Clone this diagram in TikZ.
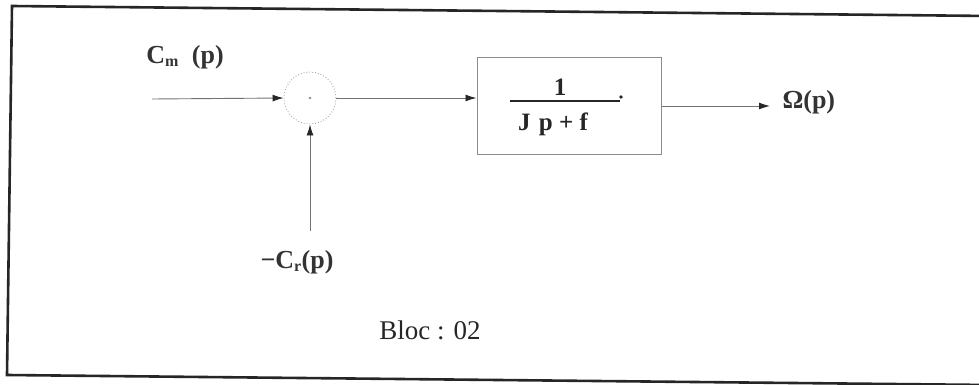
\documentclass[tikz,border=0pt]{standalone}
\usepackage{fontspec}
\setmainfont{Liberation Serif}
\usetikzlibrary{arrows.meta}
\begin{document}
\begin{tikzpicture}[x=1pt,y=-1pt,
  sig/.style={draw=black!55, line width=0.9pt, -{Latex[length=11pt,width=7pt,black!85]}},
  lbl/.style={font=\fontsize{26}{30}\selectfont\bfseries, text=black!80},
  blockbox/.style={draw=black!45, line width=1pt, minimum width=184pt, minimum height=96pt},
  sumc/.style={circle, draw=black!35, dotted, line width=0.9pt, minimum size=52pt, inner sep=0pt}]
\useasboundingbox (0,0) rectangle (979,385);
% outer frame (slightly tilted as in the scan)
\draw[line width=2.6pt, black!85] (12,6) -- (990,16) -- (990,385) -- (7,375) -- cycle;
% nodes
\node[sumc] (s) at (310,98) {};
\fill[black!45] (s.center) circle (1.3pt);
\coordinate (in) at (152,99);
\coordinate (cr) at (310,231);
\node[blockbox] (b) at (569,106) {};
\coordinate (out) at (770,106);
% labels
\node[lbl] (cm) at (185,57) {C\textsubscript{\fontsize{16}{18}\selectfont m}\ \ (p)};
\node[lbl] (crl) at (297,262) {\textminus C\textsubscript{\fontsize{16}{18}\selectfont r}(p)};
\node[lbl, anchor=west] (om) at (779,102) {Ω(p)};
\node[font=\fontsize{25}{28}\selectfont\bfseries, text=black!85] (num) at (560,87) {1};
\draw[black!85, line width=1.3pt] (510,101) -- (620,101);
\fill[black!85] (621,97) circle (1.8pt);
\node[font=\fontsize{25}{28}\selectfont\bfseries, text=black!85] (den) at (553,124) {J\,\,p + f};
\node[font=\fontsize{27}{30}\selectfont, text=black!85] (bloc) at (430,330) {Bloc : 02};
% connectors
\draw[sig] (in) -- (s.west);
\draw[sig] (cr) -- (s.south);
\draw[sig] (s.east) -- (b.west |- s.east);
\draw[sig] (b.east |- out) -- (out);
\end{tikzpicture}
\end{document}
